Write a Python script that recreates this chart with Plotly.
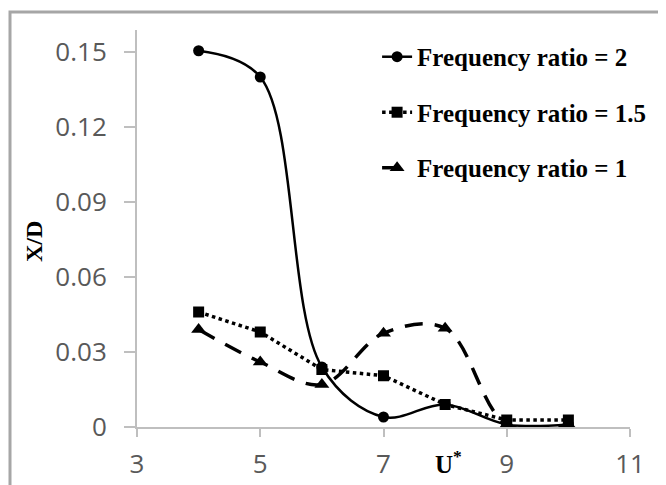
import plotly.graph_objects as go

u_star = [4, 5, 6, 7, 8, 9, 10]
ratio_2 = [0.1505, 0.1400, 0.0240, 0.0040, 0.0090, 0.0010, 0.0010]
ratio_15 = [0.0460, 0.0380, 0.0230, 0.0205, 0.0090, 0.0028, 0.0028]
ratio_1 = [0.0390, 0.0260, 0.0170, 0.0375, 0.0395, 0.0010, 0.0010]

x_ticks = [3, 5, 7, 9, 11]
y_ticks = [0, 0.03, 0.06, 0.09, 0.12, 0.15]
y_tick_text = ["0", "0.03", "0.06", "0.09", "0.12", "0.15"]

# page offset compensation (browser body margin)
OFF = 8
L, T, R, B = 137 - OFF, 30 - OFF, 666 - (630 - OFF), 485 - (427 - OFF)
PW = 630 - 137
PH = 427 - 30

fig = go.Figure()
fig.add_trace(go.Scatter(
    x=u_star, y=ratio_2, name="Frequency ratio = 2", mode="lines+markers",
    line=dict(color="black", width=2.5, shape="spline", smoothing=1.0),
    marker=dict(symbol="circle", size=11, color="black"), legendgroup="a"))
fig.add_trace(go.Scatter(
    x=u_star, y=ratio_15, name="Frequency ratio = 1.5", mode="lines+markers",
    line=dict(color="black", width=3.5, dash="dot"),
    marker=dict(symbol="square", size=11, color="black"), legendgroup="b"))
fig.add_trace(go.Scatter(
    x=u_star, y=ratio_1, name="Frequency ratio = 1", mode="lines+markers",
    line=dict(color="black", width=3.5, dash="18px,12px", shape="spline", smoothing=1.0),
    marker=dict(symbol="triangle-up", size=13, color="black"), legendgroup="c"))

fig.update_layout(
    width=666, height=485,
    margin=dict(l=L, r=R, t=T, b=B),
    paper_bgcolor="white", plot_bgcolor="white",
    showlegend=True,
    legend=dict(x=0.487, y=0.99, xanchor="left", yanchor="top",
                font=dict(family="Liberation Serif", size=25, color="black", weight="bold"),
                tracegroupgap=20, bgcolor="rgba(0,0,0,0)", itemwidth=30),
    xaxis=dict(range=[3, 11], tickvals=x_ticks, showgrid=False, zeroline=False,
               showline=True, linecolor="#bfbfbf", linewidth=2,
               ticks="outside", ticklen=8, tickcolor="#bfbfbf", tickwidth=2,
               ticklabelstandoff=5,
               tickfont=dict(family="Open Sans", size=26, color="#595959")),
    yaxis=dict(range=[0, 0.1588], tickvals=y_ticks, ticktext=y_tick_text,
               showgrid=False, zeroline=False,
               showline=True, linecolor="#bfbfbf", linewidth=2,
               ticks="outside", ticklen=11, tickcolor="#bfbfbf", tickwidth=2,
               ticklabelstandoff=12,
               tickfont=dict(family="Open Sans", size=26, color="#595959")),
)

fig.add_annotation(xref="paper", yref="paper", x=(34 - 137) / PW, y=(427 - 242) / PH,
                   xanchor="center", yanchor="middle",
                   text="X/D", textangle=-90, showarrow=False,
                   font=dict(family="Liberation Serif", size=24, color="black", weight="bold"))
fig.add_annotation(xref="x", yref="paper", x=8.05, y=(427 - 462) / PH,
                   xanchor="center", yanchor="middle",
                   text="U<sup>*</sup>", showarrow=False,
                   font=dict(family="Liberation Serif", size=25, color="black", weight="bold"))

fig.add_shape(type="rect", xref="paper", yref="paper",
              x0=(10 - 137) / PW, x1=(660 - 137) / PW,
              y0=-0.3, y1=1 + 18 / PH,
              line=dict(color="#a6a6a6", width=3), layer="below")

fig.write_html("out.html")
